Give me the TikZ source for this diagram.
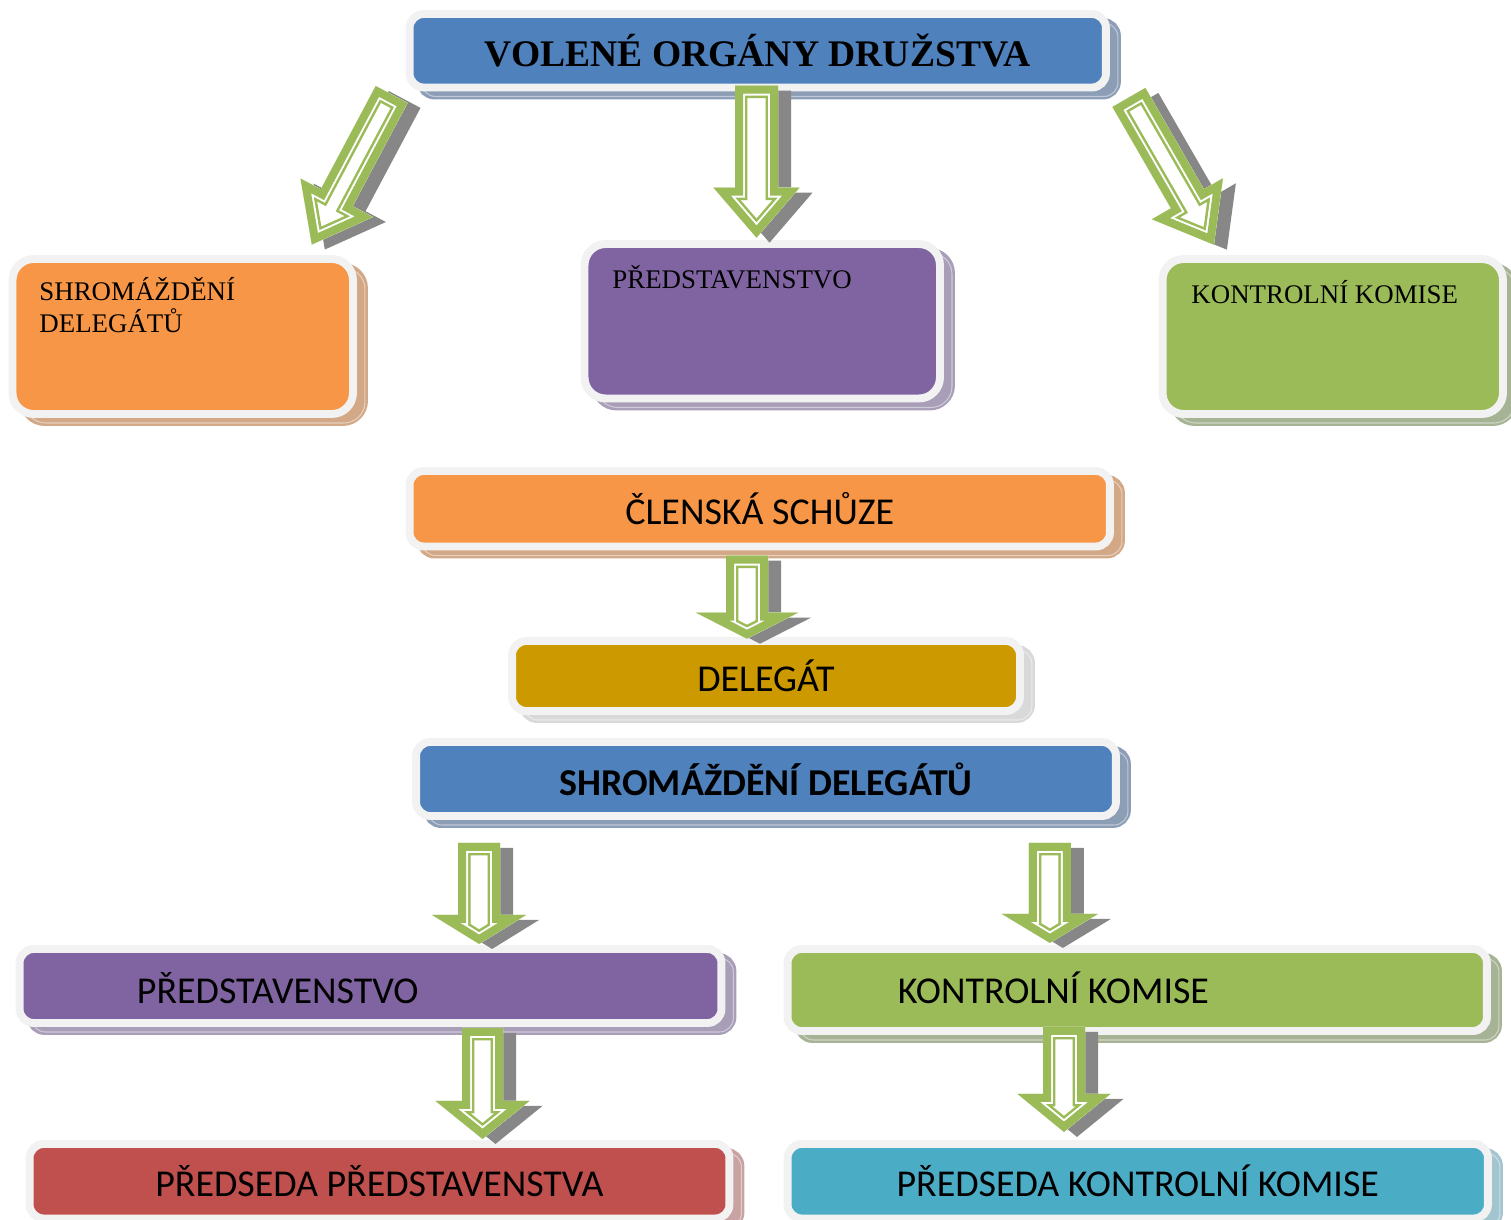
\documentclass[tikz,border=0pt]{standalone}
\usepackage{fontspec}
\setmainfont{Liberation Serif}
\newfontfamily\calibri{Carlito}

\definecolor{rimgray}{HTML}{F2F2F2}
\definecolor{titleblue}{HTML}{4F81BD}
\definecolor{blueshade}{HTML}{8C9DB6}
\definecolor{orgorange}{HTML}{F79646}
\definecolor{orangeshade}{HTML}{D2A887}
\definecolor{orgpurple}{HTML}{8064A2}
\definecolor{purpleshade}{HTML}{A89EB8}
\definecolor{orggreen}{HTML}{9BBB59}
\definecolor{greenshade}{HTML}{A6B394}
\definecolor{delegold}{HTML}{CC9900}
\definecolor{goldshade}{HTML}{D9D9D9}
\definecolor{orgred}{HTML}{C0504D}
\definecolor{redshade}{HTML}{C9A3A2}
\definecolor{orgcyan}{HTML}{4BACC6}
\definecolor{cyanshade}{HTML}{A3C5CF}
\definecolor{arrowgreen}{HTML}{9BBB59}
\definecolor{arrowshade}{HTML}{878787}

\tikzset{
  orgbox/.style 2 args={rectangle, rounded corners=8pt, fill=#1, draw=rimgray, line width=4.5pt,
    preaction={fill=#2, draw=#2, line width=4.5pt, transform canvas={shift={(11,8)}}},
    preaction={draw=white!45!#2, line width=0.6pt, transform canvas={shift={(12,9)}}},
    inner sep=0pt, text=black},
  bigbox/.style={rounded corners=12pt},
  serifhead/.style={font=\fontsize{21.4}{25}\selectfont\bfseries},
  seriflabel/.style={font=\fontsize{15.3}{18.2}\selectfont, anchor=base west, inner sep=0pt, align=left},
  sanslabel/.style={font=\calibri\fontsize{21.6}{26}\selectfont, inner sep=0pt},
}

% arrow outline: length, shaft half-width, head half-width, head length
\newcommand{\arrowoutline}[4]{(-#2,0) -- (#2,0) -- (#2,#1-#4) -- (#3,#1-#4) -- (0,#1) -- (-#3,#1-#4) -- (-#2,#1-#4) -- cycle}

% hollow block arrow: tail, angle, length, shaft, head half-width, head length
\newcommand{\hollowarrow}[6]{%
  \fill[arrowshade, shift={#1}, shift={(13,5)}, rotate=#2] \arrowoutline{#3}{#4}{#5}{#6};
  \begin{scope}[shift={#1}, rotate=#2, line join=miter, miter limit=20]
    \fill[white] \arrowoutline{#3}{#4}{#5}{#6};
    \begin{scope}
      \clip \arrowoutline{#3}{#4}{#5}{#6};
      \draw[arrowgreen, line width=14.2pt] \arrowoutline{#3}{#4}{#5}{#6};
      \draw[white, line width=11.3pt] \arrowoutline{#3}{#4}{#5}{#6};
      \draw[arrowgreen, line width=9.1pt] \arrowoutline{#3}{#4}{#5}{#6};
    \end{scope}
  \end{scope}}

\begin{document}
\begin{tikzpicture}[x=0.02cm, y=-0.02cm]
  \useasboundingbox (0,0) rectangle (1511,1220);

  % upper part
  \node[orgbox={titleblue}{blueshade}, serifhead, minimum width=13.93cm, minimum height=1.47cm] (title) at (757.75,50.75) {VOLENÉ ORGÁNY DRUŽSTVA};
  \node[orgbox={orgorange}{orangeshade}, bigbox, minimum width=6.81cm, minimum height=3.1cm] (sd) at (182.75,336.5) {};
  \node[orgbox={orgpurple}{purpleshade}, bigbox, minimum width=7.11cm, minimum height=3.09cm] (pr) at (762.25,321.25) {};
  \node[orgbox={orggreen}{greenshade}, bigbox, minimum width=6.81cm, minimum height=3.1cm] (kk) at (1332.75,336.5) {};
  \node[seriflabel] (sdtxt) at ([shift={(30.5,77)}]sd.north west) {SHROMÁŽDĚNÍ\\DELEGÁTŮ};
  \node[seriflabel] (prtxt) at ([shift={(31.5,48)}]pr.north west) {PŘEDSTAVENSTVO};
  \node[seriflabel] (kktxt) at ([shift={(32.5,48)}]kk.north west) {KONTROLNÍ KOMISE};

  % lower part
  \node[orgbox={orgorange}{orangeshade}, sanslabel, minimum width=14.01cm, minimum height=1.51cm] (cs) at (759.75,508.75) {ČLENSKÁ SCHŮZE};
  \node[orgbox={delegold}{goldshade}, sanslabel, minimum width=10.16cm, minimum height=1.4cm] (del) at (766,676) {DELEGÁT};
  \node[orgbox={titleblue}{blueshade}, sanslabel, font=\calibri\fontsize{21.6}{26}\selectfont\bfseries, minimum width=14cm, minimum height=1.48cm] (sdb) at (766,779) {SHROMÁŽDĚNÍ DELEGÁTŮ};
  \node[orgbox={orgpurple}{purpleshade}, minimum width=14.04cm, minimum height=1.48cm] (pr2) at (370.5,986) {};
  \node[orgbox={orggreen}{greenshade}, minimum width=13.99cm, minimum height=1.64cm] (kk2) at (1137.25,990) {};
  \node[sanslabel, anchor=west] (pr2txt) at ([shift={(121,2)}]pr2.west) {PŘEDSTAVENSTVO};
  \node[sanslabel, anchor=west] (kk2txt) at ([shift={(114,-2)}]kk2.west) {KONTROLNÍ KOMISE};
  \node[orgbox={orgred}{redshade}, sanslabel, minimum width=14cm, minimum height=1.49cm] (ps) at (379.5,1181.25) {PŘEDSEDA PŘEDSTAVENSTVA};
  \node[orgbox={orgcyan}{cyanshade}, sanslabel, minimum width=14.01cm, minimum height=1.49cm] (pk) at (1137.75,1181.25) {PŘEDSEDA KONTROLNÍ KOMISE};

  % arrow tails
  \coordinate (a1) at ([shift={(-14,3)}]title.south west);
  \coordinate (a2) at ([shift={(-1.25,-5.75)}]title.south);
  \coordinate (a3) at ([shift={(19,6)}]title.south east);
  \coordinate (a4) at ([shift={(-12.75,5.25)}]cs.south);
  \coordinate (a5) at ([shift={(67,23)}]sdb.south west);
  \coordinate (a6) at ([shift={(-70,23)}]sdb.south east);
  \coordinate (a7) at ([shift={(112,1)}]pr2.south);
  \coordinate (a8) at ([shift={(-73.25,-8)}]kk2.south);

  \hollowarrow{(a1)}{-28}{170}{18}{41}{53}
  \hollowarrow{(a2)}{0}{152}{21.5}{43}{50}
  \hollowarrow{(a3)}{30}{170}{19}{41}{53}
  \hollowarrow{(a4)}{0}{83}{21}{51}{26}
  \hollowarrow{(a5)}{0}{101}{21}{47}{29}
  \hollowarrow{(a6)}{0}{100}{21}{48}{29}
  \hollowarrow{(a7)}{0}{111}{20.5}{47}{38}
  \hollowarrow{(a8)}{0}{105}{21}{46.5}{38}
\end{tikzpicture}
\end{document}
